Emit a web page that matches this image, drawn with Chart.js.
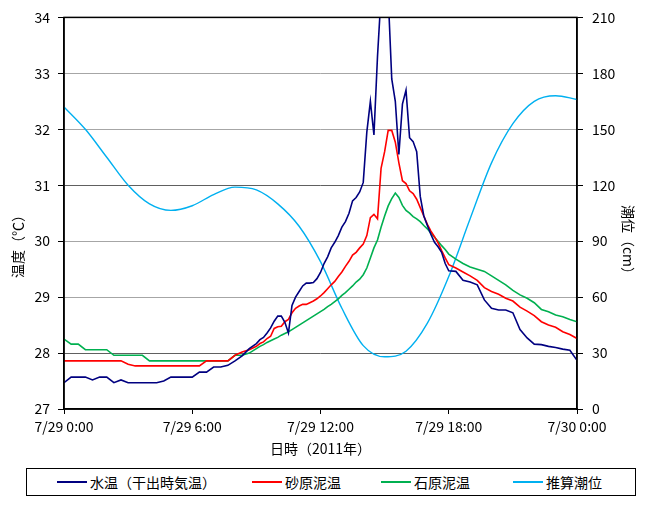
<!DOCTYPE html>
<html>
<head>
<meta charset="utf-8">
<script src="https://cdn.jsdelivr.net/npm/chart.js@4"></script>
<style>
body { margin: 0; background: #fff; font-family: "Noto Sans CJK JP", sans-serif; }
#wrap { position: relative; width: 646px; height: 460px; }
#legend { position: absolute; left: 26px; top: 468px; width: 608px; height: 26px; border: 1px solid #000; }
.item { position: absolute; top: 0; height: 26px; display: flex; align-items: center; font-size: 14px; color: #000; white-space: nowrap; }
.swatch { display: inline-block; width: 30px; height: 0; border-top: 2px solid; margin-right: 3px; }
</style>
</head>
<body>
<div id="wrap"><canvas id="chart" width="646" height="460"></canvas></div>
<div id="legend"></div>
<script>
// minutes from 7/29 0:00 (20 min steps, 10 min around the peak)
const timeMin = [0,20,40,60,80,100,120,140,160,180,200,220,240,260,280,300,320,340,360,380,400,420,440,460,480,500,520,540,
  550,560,570,580,590,600,610,620,630,640,650,660,670,680,690,700,710,720,730,740,750,760,770,780,790,800,
  810,820,830,840,850,860,870,880,890,900,910,920,930,940,950,960,970,980,990,1000,1010,1020,1030,1040,1050,1060,1070,1080,
  1100,1120,1140,1160,1180,1200,1220,1240,1260,1280,1300,1320,1340,1360,1380,1400,1420,1440];

const waterTemp = [27.47,27.57,27.57,27.57,27.52,27.57,27.57,27.47,27.52,27.47,27.47,27.47,27.47,27.47,27.5,27.57,27.57,27.57,27.57,27.66,27.66,27.75,27.75,27.78,27.86,27.95,28.08,28.17,
  28.24,28.28,28.36,28.45,28.57,
  28.66,28.66,28.55,28.36,28.85,29.0,
  29.1,29.2,29.25,29.25,29.26,29.33,
  29.44,29.6,29.72,29.88,29.98,30.1,
  30.25,30.35,30.5,30.72,30.78,30.88,
  31.05,31.95,32.5,31.9,33.3,34.4,
  34.8,34.4,32.9,32.5,31.55,32.45,
  32.7,31.85,31.78,31.6,30.8,30.45,
  30.28,30.12,29.98,29.9,29.8,29.6,
  29.47,
  29.46,29.3,29.27,29.22,28.95,28.8,28.77,28.77,28.72,28.42,28.27,28.16,28.15,28.12,28.1,28.07,28.05,27.87];

const sandTemp = [27.86,27.86,27.86,27.86,27.86,27.86,27.86,27.86,27.86,27.8,27.77,27.77,27.77,27.77,27.77,27.77,27.77,27.77,27.77,27.77,27.86,27.86,27.86,27.86,27.96,28.02,28.06,28.12,
  28.17,28.2,28.26,28.3,28.44,
  28.47,28.48,28.56,28.6,28.72,28.8,
  28.84,28.87,28.87,28.9,28.93,28.97,
  29.02,29.08,29.15,29.22,29.28,29.37,
  29.45,29.55,29.64,29.75,29.8,29.88,
  29.95,30.1,30.42,30.48,30.4,31.3,
  31.6,31.98,31.98,31.77,31.4,31.08,
  31.03,30.9,30.85,30.75,30.6,30.45,
  30.3,30.18,30.08,29.97,29.83,29.7,
  29.58,
  29.52,29.45,29.38,29.3,29.17,29.1,29.05,28.98,28.93,28.82,28.75,28.67,28.56,28.5,28.46,28.38,28.33,28.26];

const stoneTemp = [28.25,28.16,28.16,28.06,28.06,28.06,28.06,27.96,27.96,27.96,27.96,27.96,27.86,27.86,27.86,27.86,27.86,27.86,27.86,27.86,27.86,27.86,27.86,27.86,27.96,27.96,28.0,28.08,
  28.12,28.15,28.19,28.22,28.25,
  28.28,28.32,28.35,28.38,28.42,28.46,
  28.5,28.54,28.58,28.62,28.66,28.7,
  28.74,28.78,28.83,28.87,28.92,28.97,
  29.03,29.08,29.14,29.2,29.27,29.32,
  29.4,29.52,29.7,29.88,30.02,30.25,
  30.45,30.63,30.76,30.86,30.78,30.64,
  30.55,30.5,30.44,30.4,30.35,30.28,
  30.22,30.14,30.07,30.0,29.92,29.85,
  29.77,
  29.68,29.6,29.54,29.5,29.46,29.38,29.3,29.22,29.12,29.04,28.98,28.9,28.78,28.74,28.68,28.65,28.6,28.56];

// hourly predicted tide (cm)
const tideMin = [0,60,120,180,240,300,360,420,480,540,600,660,720,780,840,900,960,1020,1080,1140,1200,1260,1320,1380,1440];
const tideCm = [162,150,135,120,110,106.5,109,115,119,117.5,110,98,79,54,34,28,31,46,71,102,132,153,165,168,166];

const seriesNames = ['水温（干出時気温）', '砂原泥温', '石原泥温', '推算潮位'];
const seriesColors = ['#000080', '#ff0000', '#00b050', '#00b0f0'];
const xTickLabels = ['7/29 0:00', '7/29 6:00', '7/29 12:00', '7/29 18:00', '7/30 0:00'];
const yTitle = '温度（℃）';
const y2Title = '潮位（cm）';

const font = { family: '"Noto Sans CJK JP", sans-serif', size: 14 };
const pts = (xs, ys) => xs.map((x, i) => ({ x: x, y: ys[i] }));

// plot frame and the two vertical axis titles
const frame = {
  id: 'frame',
  afterDatasetsDraw(chart) {
    const a = chart.chartArea, c = chart.ctx;
    c.save();
    c.strokeStyle = '#000';
    c.lineWidth = 1.5;
    c.strokeRect(a.left, a.top, a.right - a.left, a.bottom - a.top);
    c.restore();
  },
  afterDraw(chart) {
    const c = chart.ctx;
    c.save();
    c.fillStyle = '#000';
    c.font = '14px "Noto Sans CJK JP", sans-serif';
    c.textAlign = 'center';
    c.textBaseline = 'middle';
    c.translate(18, 243);
    c.rotate(-Math.PI / 2);
    c.fillText(yTitle, 0, 0);
    c.restore();
    c.save();
    c.fillStyle = '#000';
    c.font = '14px "Noto Sans CJK JP", sans-serif';
    c.textAlign = 'center';
    c.textBaseline = 'middle';
    c.translate(628, 243);
    c.rotate(Math.PI / 2);
    c.fillText(y2Title, 0, 0);
    c.restore();
  }
};

new Chart(document.getElementById('chart'), {
  type: 'line',
  data: {
    datasets: [
      { label: seriesNames[0], data: pts(timeMin, waterTemp), borderColor: seriesColors[0], yAxisID: 'y' },
      { label: seriesNames[1], data: pts(timeMin, sandTemp), borderColor: seriesColors[1], yAxisID: 'y' },
      { label: seriesNames[2], data: pts(timeMin, stoneTemp), borderColor: seriesColors[2], yAxisID: 'y' },
      { label: seriesNames[3], data: pts(tideMin, tideCm), borderColor: seriesColors[3], yAxisID: 'y2', cubicInterpolationMode: 'monotone', borderWidth: 1.4 }
    ]
  },
  options: {
    responsive: false,
    animation: false,
    layout: { padding: { top: 15, left: 0, right: 0, bottom: 0 } },
    elements: { point: { radius: 0 }, line: { borderWidth: 1.6, tension: 0 } },
    plugins: { legend: { display: false }, tooltip: { enabled: false } },
    scales: {
      x: {
        type: 'linear', min: 0, max: 1440,
        ticks: { stepSize: 360, autoSkip: false, maxRotation: 0, color: '#000', font: font, padding: 4,
          callback: v => xTickLabels[v / 360] },
        grid: { drawOnChartArea: false, tickLength: 5, color: '#000' },
        border: { color: '#000', width: 1.5 },
        title: { display: true, text: '日時（2011年）', color: '#000', font: font, padding: { top: 2, bottom: 3 } },
        afterFit: s => { s.height = 51; }
      },
      y: {
        position: 'left', min: 27, max: 34,
        ticks: { stepSize: 1, color: '#000', font: font, padding: 8 },
        grid: { color: c => (c.tick.value === 28 || c.tick.value === 31) ? '#606060' : '#a6a6a6', tickColor: '#000', tickLength: 6 },
        border: { color: '#000', width: 1.5 },
        afterFit: s => { s.width = 64; }
      },
      y2: {
        position: 'right', min: 0, max: 210,
        ticks: { stepSize: 30, color: '#000', font: font, padding: 9 },
        grid: { drawOnChartArea: false, color: '#000', tickLength: 6 },
        border: { color: '#000', width: 1.5 },
        afterFit: s => { s.width = 69; }
      }
    }
  },
  plugins: [frame]
});

const legendLeft = [30, 225, 354, 486];
const legend = document.getElementById('legend');
seriesNames.forEach((name, i) => {
  const item = document.createElement('div');
  item.className = 'item';
  item.style.left = legendLeft[i] + 'px';
  const sw = document.createElement('span');
  sw.className = 'swatch';
  sw.style.borderTopColor = seriesColors[i];
  item.appendChild(sw);
  item.appendChild(document.createTextNode(name));
  legend.appendChild(item);
});
</script>
</body>
</html>
